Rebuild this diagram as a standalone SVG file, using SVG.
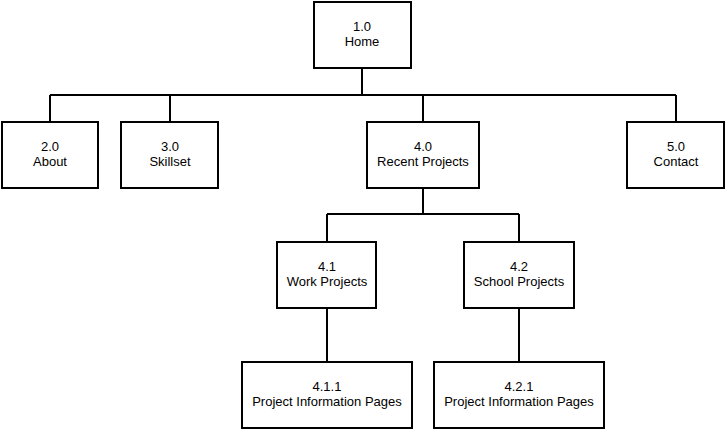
<svg xmlns="http://www.w3.org/2000/svg" width="726" height="430" viewBox="0 0 726 430">
<style>
.box{fill:#fff;stroke:#000;stroke-width:2}
.con{fill:none;stroke:#000;stroke-width:2}
.t{font-family:"Liberation Sans",Arial,sans-serif;font-size:13px;fill:#000;text-anchor:middle}
</style>
<rect width="726" height="430" fill="#fff"/>
<g id="connectors">
<path class="con" d="M362,68 V95 M50,95 H676 M50,95 V122 M170,95 V122 M423,95 V122 M676,95 V122"/>
<path class="con" d="M423,188 V214 M327,214 H519 M327,214 V242 M519,214 V242"/>
<path class="con" d="M327,308 V362 M519,308 V362"/>
</g>
<g id="n1"><rect class="box" x="314" y="2" width="97" height="66"/><text class="t" x="362" y="31">1.0</text><text class="t" x="362" y="46">Home</text></g>
<g id="n2"><rect class="box" x="2" y="122" width="96" height="66"/><text class="t" x="50" y="151">2.0</text><text class="t" x="50" y="166">About</text></g>
<g id="n3"><rect class="box" x="121" y="122" width="97" height="66"/><text class="t" x="170" y="151">3.0</text><text class="t" x="170" y="166">Skillset</text></g>
<g id="n4"><rect class="box" x="367" y="122" width="112" height="66"/><text class="t" x="423" y="151">4.0</text><text class="t" x="423" y="166">Recent Projects</text></g>
<g id="n5"><rect class="box" x="627" y="122" width="97" height="66"/><text class="t" x="676" y="151">5.0</text><text class="t" x="676" y="166">Contact</text></g>
<g id="n41"><rect class="box" x="277" y="242" width="99" height="66"/><text class="t" x="327" y="271">4.1</text><text class="t" x="327" y="286">Work Projects</text></g>
<g id="n42"><rect class="box" x="464" y="242" width="110" height="66"/><text class="t" x="519" y="271">4.2</text><text class="t" x="519" y="286">School Projects</text></g>
<g id="n411"><rect class="box" x="242" y="362" width="170" height="66"/><text class="t" x="327" y="391">4.1.1</text><text class="t" x="327" y="406">Project Information Pages</text></g>
<g id="n421"><rect class="box" x="434" y="362" width="170" height="66"/><text class="t" x="519" y="391">4.2.1</text><text class="t" x="519" y="406">Project Information Pages</text></g>
</svg>
